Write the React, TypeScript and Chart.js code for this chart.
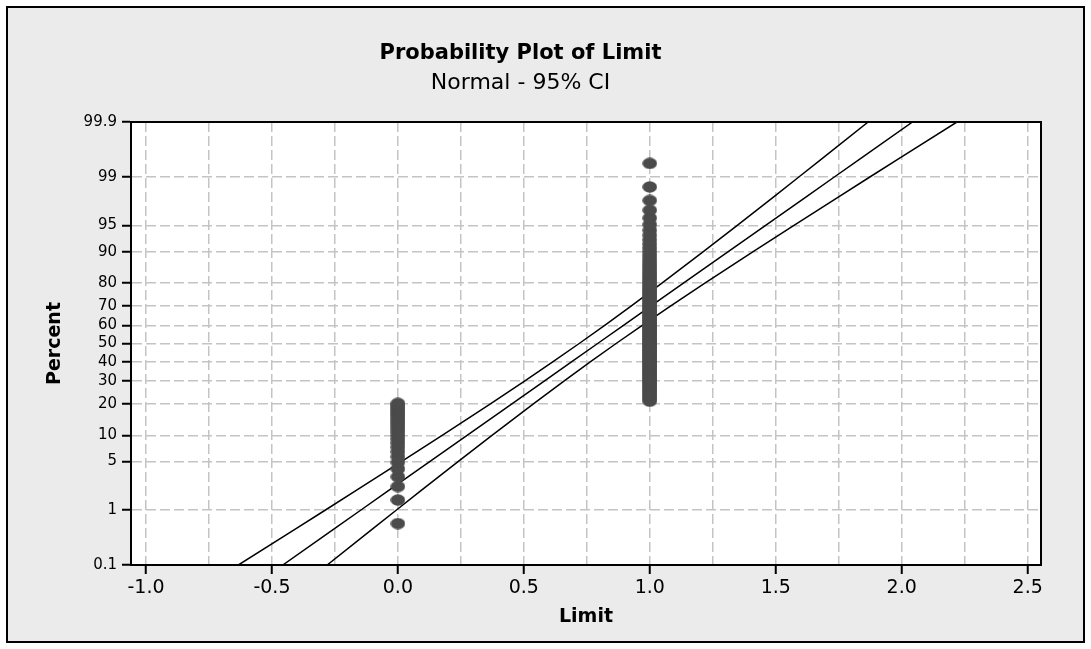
import React, { useEffect, useRef } from 'react';
import { Chart, registerables } from 'chart.js';

Chart.register(...registerables);

const TITLE = 'Probability Plot of Limit';
const SUBTITLE = 'Normal - 95% CI';
const X_TITLE = 'Limit';
const Y_TITLE = 'Percent';

// Probability-scale tick positions (percent) and their labels
const yTickPercents = [0.1, 1, 5, 10, 20, 30, 40, 50, 60, 70, 80, 90, 95, 99, 99.9];
const yTickLabels = ['0.1', '1', '5', '10', '20', '30', '40', '50', '60', '70', '80', '90', '95', '99', '99.9'];

// Observations with Limit = 0 : plotted percent (median ranks)
const limitZeroPercents = [
  0.6, 1.45, 2.3, 3.15, 4.0, 4.86, 5.71, 6.56, 7.41, 8.26, 9.11, 9.97, 10.82, 11.67,
  12.52, 13.37, 14.23, 15.08, 15.93, 16.78, 17.63, 18.48, 19.34, 20.19,
];

// Observations with Limit = 1 : plotted percent (median ranks)
const limitOnePercents = [
  21.04, 21.89, 22.74, 23.59, 24.45, 25.3, 26.15, 27.0, 27.85, 28.71, 29.56, 30.41, 31.26,
  32.11, 32.96, 33.82, 34.67, 35.52, 36.37, 37.22, 38.08, 38.93, 39.78, 40.63, 41.48, 42.33,
  43.19, 44.04, 44.89, 45.74, 46.59, 47.44, 48.3, 49.15, 50.0, 50.85, 51.7, 52.56, 53.41,
  54.26, 55.11, 55.96, 56.81, 57.67, 58.52, 59.37, 60.22, 61.07, 61.93, 62.78, 63.63, 64.48,
  65.33, 66.18, 67.04, 67.89, 68.74, 69.59, 70.44, 71.29, 72.15, 73.0, 73.85, 74.7, 75.55,
  76.41, 77.26, 78.11, 78.96, 79.81, 80.66, 81.52, 82.37, 83.22, 84.07, 84.92, 85.78, 86.63,
  87.48, 88.33, 89.18, 90.03, 90.89, 91.74, 92.59, 93.44, 94.29, 95.15, 96.0, 96.85, 97.7,
  98.55, 99.4,
];

// Fitted normal line and 95% confidence band (Limit value at each percent)
const fitPercents = [0.1, 0.5, 1, 2, 5, 10, 20, 30, 40, 50, 60, 70, 80, 90, 95, 98, 99, 99.5, 99.9];
const fitLimit = [
  -0.457, -0.2489, -0.148, -0.0377, 0.1276, 0.2746, 0.4526, 0.5809, 0.6905, 0.793, 0.8955,
  1.0051, 1.1334, 1.3114, 1.4584, 1.6237, 1.734, 1.8349, 2.043,
];
const lowerLimit = [
  -0.6331, -0.4012, -0.2891, -0.1669, 0.0152, 0.1757, 0.3673, 0.5027, 0.616, 0.7197, 0.821,
  0.9269, 1.0481, 1.2125, 1.346, 1.4945, 1.5929, 1.6826, 1.8669,
];
const upperLimit = [
  -0.2809, -0.0966, -0.0069, 0.0915, 0.24, 0.3735, 0.5379, 0.6591, 0.765, 0.8663, 0.97,
  1.0833, 1.2187, 1.4103, 1.5708, 1.7529, 1.8751, 1.9872, 2.2191,
];

// inverse standard normal CDF (probability scale transform)
function probit(p: number): number {
  const a = [-39.69683028665376, 220.9460984245205, -275.9285104469687, 138.357751867269, -30.66479806614716, 2.506628277459239];
  const b = [-54.47609879822406, 161.5858368580409, -155.6989798598866, 66.80131188771972, -13.28068155288572];
  const c = [-0.007784894002430293, -0.3223964580411365, -2.400758277161838, -2.549732539343734, 4.374664141464968, 2.938163982698783];
  const d = [0.007784695709041462, 0.3224671290700398, 2.445134137142996, 3.754408661907416];
  const pl = 0.02425;
  if (p < pl) {
    const q = Math.sqrt(-2 * Math.log(p));
    return (((((c[0] * q + c[1]) * q + c[2]) * q + c[3]) * q + c[4]) * q + c[5]) /
      ((((d[0] * q + d[1]) * q + d[2]) * q + d[3]) * q + 1);
  }
  if (p <= 1 - pl) {
    const q = p - 0.5;
    const r = q * q;
    return ((((((a[0] * r + a[1]) * r + a[2]) * r + a[3]) * r + a[4]) * r + a[5]) * q) /
      (((((b[0] * r + b[1]) * r + b[2]) * r + b[3]) * r + b[4]) * r + 1);
  }
  const q = Math.sqrt(-2 * Math.log(1 - p));
  return -(((((c[0] * q + c[1]) * q + c[2]) * q + c[3]) * q + c[4]) * q + c[5]) /
    ((((d[0] * q + d[1]) * q + d[2]) * q + d[3]) * q + 1);
}

const isHalfStep = (v: number) => Math.abs(v * 2 - Math.round(v * 2)) < 1e-6;
const FONT = 'DejaVu Sans, Verdana, sans-serif';

export default function App() {
  const canvasRef = useRef<HTMLCanvasElement | null>(null);

  useEffect(() => {
    if (!canvasRef.current) return;

    const dot = document.createElement('canvas');
    dot.width = 15;
    dot.height = 12;
    const dctx = dot.getContext('2d')!;
    dctx.fillStyle = '#4b4b4b';
    dctx.beginPath();
    dctx.ellipse(7.5, 6, 7.3, 5.8, 0, 0, Math.PI * 2);
    dctx.fill();

    const plotFrame = {
      id: 'plotFrame',
      beforeDraw(chart: any) {
        const { ctx, chartArea: a } = chart;
        ctx.save();
        ctx.fillStyle = '#ffffff';
        ctx.fillRect(a.left, a.top, a.right - a.left, a.bottom - a.top);
        ctx.restore();
      },
      afterDatasetsDraw(chart: any) {
        const { ctx, chartArea: a } = chart;
        ctx.save();
        ctx.strokeStyle = '#000';
        ctx.lineWidth = 2;
        ctx.strokeRect(a.left, a.top, a.right - a.left, a.bottom - a.top);
        ctx.restore();
      },
    };

    const toLine = (xs: number[]) => xs.map((x, i) => ({ x, y: probit(fitPercents[i] / 100) }));
    const lineStyle = {
      showLine: true,
      pointRadius: 0,
      borderColor: '#000',
      borderWidth: 1.5,
      tension: 0,
      order: 1,
    };

    const points = [
      ...limitZeroPercents.map((p) => ({ x: 0, y: probit(p / 100) })),
      ...limitOnePercents.map((p) => ({ x: 1, y: probit(p / 100) })),
    ];

    const chart = new Chart(canvasRef.current, {
      type: 'scatter',
      data: {
        datasets: [
          {
            label: 'Limit',
            data: points,
            pointStyle: dot as any,
            order: 0,
          },
          { label: 'Fit', data: toLine(fitLimit), ...lineStyle },
          { label: 'Lower CI', data: toLine(lowerLimit), ...lineStyle },
          { label: 'Upper CI', data: toLine(upperLimit), ...lineStyle },
        ],
      },
      options: {
        animation: false,
        responsive: false,
        events: [],
        layout: { padding: { left: 0, top: 0, right: 50, bottom: 0 } },
        plugins: {
          legend: { display: false },
          tooltip: { enabled: false },
          title: {
            display: true,
            text: TITLE,
            color: '#000',
            font: { family: FONT, size: 21, weight: 'bold', lineHeight: 1 },
            padding: { top: 43, bottom: 0 },
          },
          subtitle: {
            display: true,
            text: SUBTITLE,
            color: '#000',
            font: { family: FONT, size: 22, weight: 'normal', lineHeight: 1 },
            padding: { top: 8, bottom: 28 },
          },
        },
        scales: {
          x: {
            type: 'linear',
            position: 'bottom',
            min: -1.0595,
            max: 2.553,
            afterFit: (s: any) => {
              s.height = 84;
            },
            ticks: {
              stepSize: 0.25,
              includeBounds: false,
              autoSkip: false,
              maxRotation: 0,
              color: '#000',
              padding: 3,
              font: { family: FONT, size: 19 },
              callback: (v: any) => (isHalfStep(Number(v)) ? Number(v).toFixed(1) : ''),
            },
            grid: {
              color: '#c4c4c4',
              lineWidth: 1.5,
              tickLength: 9,
              tickWidth: 2,
              tickColor: (ctx: any) =>
                ctx.tick && isHalfStep(ctx.tick.value) ? '#000' : 'rgba(0,0,0,0)',
            },
            border: { display: true, color: '#000', width: 2, dash: [10, 4] },
            title: {
              display: true,
              text: X_TITLE,
              color: '#000',
              font: { family: FONT, size: 19, weight: 'bold', lineHeight: 1.2 },
              padding: { top: 0, bottom: 21 },
            },
          },
          y: {
            type: 'linear',
            position: 'left',
            min: probit(yTickPercents[0] / 100),
            max: probit(yTickPercents[yTickPercents.length - 1] / 100),
            afterFit: (s: any) => {
              s.width = 131;
            },
            afterBuildTicks: (s: any) => {
              s.ticks = yTickPercents.map((p) => ({ value: probit(p / 100) }));
            },
            ticks: {
              autoSkip: false,
              color: '#000',
              padding: 5,
              font: { family: FONT, size: 15 },
              callback: (_v: any, i: number) => yTickLabels[i],
            },
            grid: {
              color: '#c4c4c4',
              lineWidth: 1.5,
              tickLength: 9,
              tickWidth: 2,
              tickColor: '#000',
            },
            border: { display: true, color: '#000', width: 2, dash: [10, 4] },
            title: {
              display: true,
              text: Y_TITLE,
              color: '#000',
              font: { family: FONT, size: 19, weight: 'bold', lineHeight: 1.2 },
              padding: { top: 44, bottom: 0 },
            },
          },
        },
      },
      plugins: [plotFrame],
    } as any);

    return () => chart.destroy();
  }, []);

  return (
    <div style={{ position: 'fixed', left: 0, top: 0, width: 1091, height: 649, background: '#fff' }}>
      <div
        style={{
          position: 'absolute',
          left: 6,
          top: 6,
          width: 1079,
          height: 637,
          boxSizing: 'border-box',
          border: '2px solid #000',
          background: '#ebebeb',
        }}
      />
      <canvas
        ref={canvasRef}
        width={1091}
        height={649}
        style={{ position: 'absolute', left: 0, top: 0, width: 1091, height: 649 }}
      />
    </div>
  );
}
